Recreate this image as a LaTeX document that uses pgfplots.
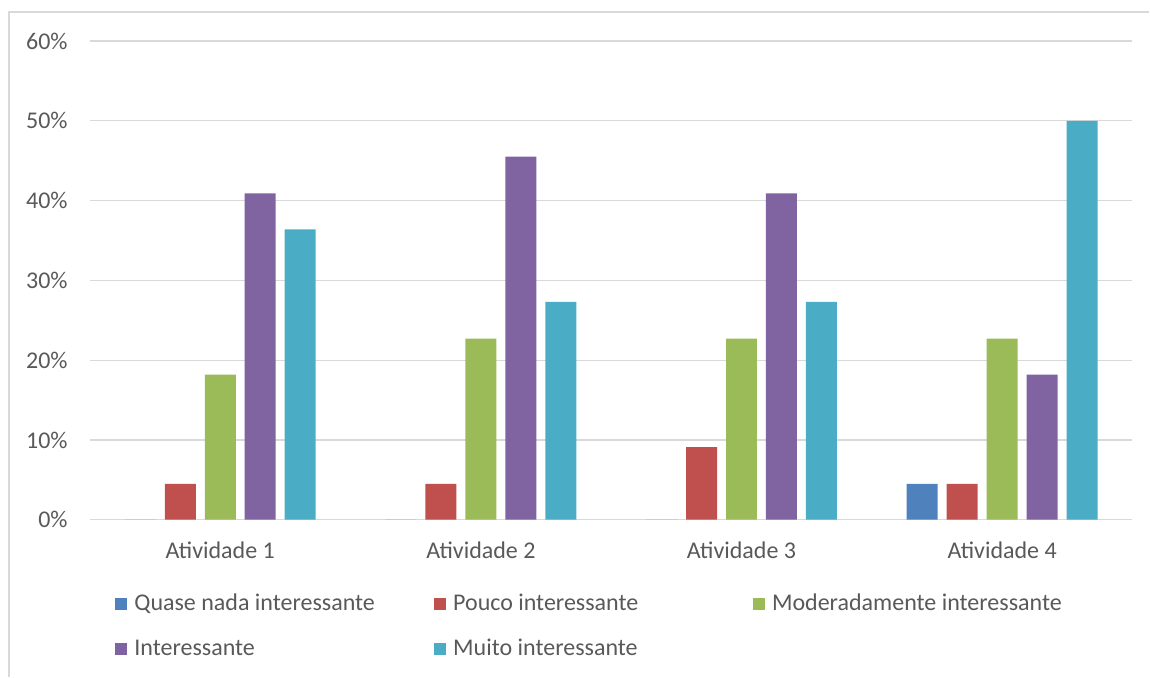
\documentclass[border=0pt]{standalone}
\usepackage{pgfplots}
\pgfplotsset{compat=1.18}
\usepackage{fontspec}
\setmainfont{Carlito}
\definecolor{c1}{HTML}{4F81BD}
\definecolor{c2}{HTML}{C0504D}
\definecolor{c3}{HTML}{9BBB59}
\definecolor{c4}{HTML}{8064A2}
\definecolor{c5}{HTML}{4BACC6}
\definecolor{txt}{HTML}{595959}
\definecolor{grd}{HTML}{D9D9D9}
\begin{document}
\begin{tikzpicture}[x=1pt,y=1pt]
\path (0,0) rectangle (575,338.5);
\draw[grd, line width=0.6pt] (4.5,0) -- (4.5,332.5) -- (575,332.5);
\begin{axis}[
  at={(45pt,78.5pt)}, anchor=south west,
  scale only axis, width=521.5pt, height=239.5pt,
  xmin=-0.5, xmax=3.5, ymin=0, ymax=60,
  xtick={0,1,2,3},
  xticklabels={Atividade 1,Atividade 2,Atividade 3,Atividade 4},
  ytick={0,10,...,60},
  /pgf/number format/assume math mode=true,
  yticklabel={\pgfmathprintnumber{\tick}\%},
  ymajorgrids, grid style={grd, line width=0.6pt},
  axis line style={draw=none},
  major tick length=0pt,
  tick label style={font=\fontsize{12}{14}\selectfont, text=txt},
  yticklabel style={anchor=east, inner sep=0pt, xshift=-11pt},
  xticklabel style={anchor=north, inner sep=0pt, yshift=-11pt},
  ybar=4.5pt, bar width=15.5pt,
  legend columns=3,
  legend image code/.code={\path[#1,draw=none] (0pt,-3pt) rectangle (6pt,3pt);},
  legend style={at={(0.024,-0.154)}, anchor=north west, draw=none, fill=none,
    font=\fontsize{12}{14}\selectfont, text=txt,
    column sep=0pt, row sep=13pt, inner sep=0pt,
    nodes={inner xsep=3.5pt, inner ysep=0pt}},
  legend cell align=left,
]
\addplot[fill=c1, draw=none] coordinates {(0,0) (1,0) (2,0) (3,4.5)};
\addlegendentry{\makebox[146.5pt][l]{Quase nada interessante}}
\addplot[fill=c2, draw=none] coordinates {(0,4.5) (1,4.5) (2,9.1) (3,4.5)};
\addlegendentry{\makebox[146.5pt][l]{Pouco interessante}}
\addplot[fill=c3, draw=none] coordinates {(0,18.2) (1,22.7) (2,22.7) (3,22.7)};
\addlegendentry{Moderadamente interessante}
\addplot[fill=c4, draw=none] coordinates {(0,40.9) (1,45.5) (2,40.9) (3,18.2)};
\addlegendentry{\makebox[146.5pt][l]{Interessante}}
\addplot[fill=c5, draw=none] coordinates {(0,36.4) (1,27.3) (2,27.3) (3,50)};
\addlegendentry{Muito interessante}
\end{axis}
\end{tikzpicture}
\end{document}
